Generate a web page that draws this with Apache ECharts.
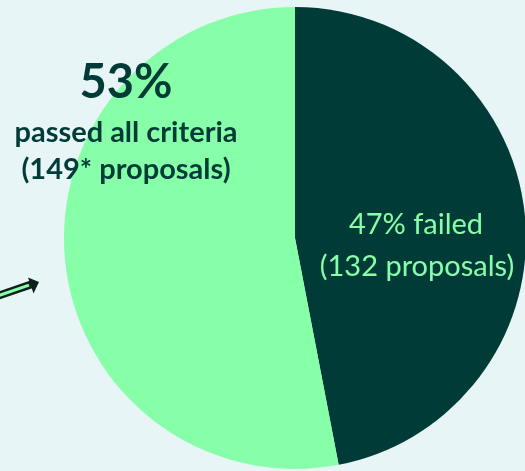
<!DOCTYPE html>
<html>
<head>
<meta charset="utf-8">
<script src="https://cdn.jsdelivr.net/npm/echarts@6/dist/echarts.min.js"></script>
<style>
  html, body { margin: 0; padding: 0; background: #e8f5f7; }
  #chart { width: 525px; height: 471px; }
</style>
</head>
<body>
<div id="chart"></div>
<script>
// Proposal review outcome
const outcomes = ['failed', 'passed all criteria'];
const proposalCounts = [132, 149];
const sliceColors = ['#003b38', '#86ffa8'];

const total = proposalCounts.reduce((a, b) => a + b, 0);
const pct = proposalCounts.map(v => Math.round(v / total * 100));

const chart = echarts.init(document.getElementById('chart'), null, { renderer: 'canvas' });
const fam = 'Lato, "Open Sans", sans-serif';

function label(x, y, text, size, weight, color) {
  return {
    type: 'text', x, y, z: 100, zlevel: 1,
    style: {
      text, align: 'center', verticalAlign: 'middle',
      fontSize: size, fontWeight: weight, fontFamily: fam, fill: color
    }
  };
}

chart.setOption({
  backgroundColor: '#e8f5f7',
  animation: false,
  series: [{
    type: 'pie',
    center: [295, 238],
    radius: 231,
    startAngle: 90,
    clockwise: true,
    label: { show: false },
    labelLine: { show: false },
    emphasis: { disabled: true },
    data: outcomes.map((name, i) => ({
      name,
      value: proposalCounts[i],
      itemStyle: { color: sliceColors[i] }
    }))
  }],
  graphic: [
    // passing share
    label(126, 83, pct[1] + '%', 47, 'bold', '#003b38'),
    label(126, 133, outcomes[1], 29, 'bold', '#003b38'),
    label(126, 170, '(' + proposalCounts[1] + '* proposals)', 29, 'bold', '#003b38'),
    // failing share
    label(416, 225, pct[0] + '% ' + outcomes[0], 29, 'normal', '#86ffa8'),
    label(417, 267, '(' + proposalCounts[0] + ' proposals)', 29, 'normal', '#86ffa8'),
    // pointer arrow on the left edge
    {
      type: 'group', z: 100, zlevel: 1,
      children: [
        { type: 'line', shape: { x1: -4, y1: 296.5, x2: 31, y2: 284.5 },
          style: { stroke: '#0d1f1c', lineWidth: 8 } },
        { type: 'line', shape: { x1: -4, y1: 296.5, x2: 29, y2: 285.2 },
          style: { stroke: '#86ffa8', lineWidth: 3 } },
        { type: 'polygon', shape: { points: [[39, 282], [28, 277.5], [31, 286], [33.5, 293.5]] },
          style: { fill: '#0d1f1c' } }
      ]
    }
  ]
});
</script>
</body>
</html>
